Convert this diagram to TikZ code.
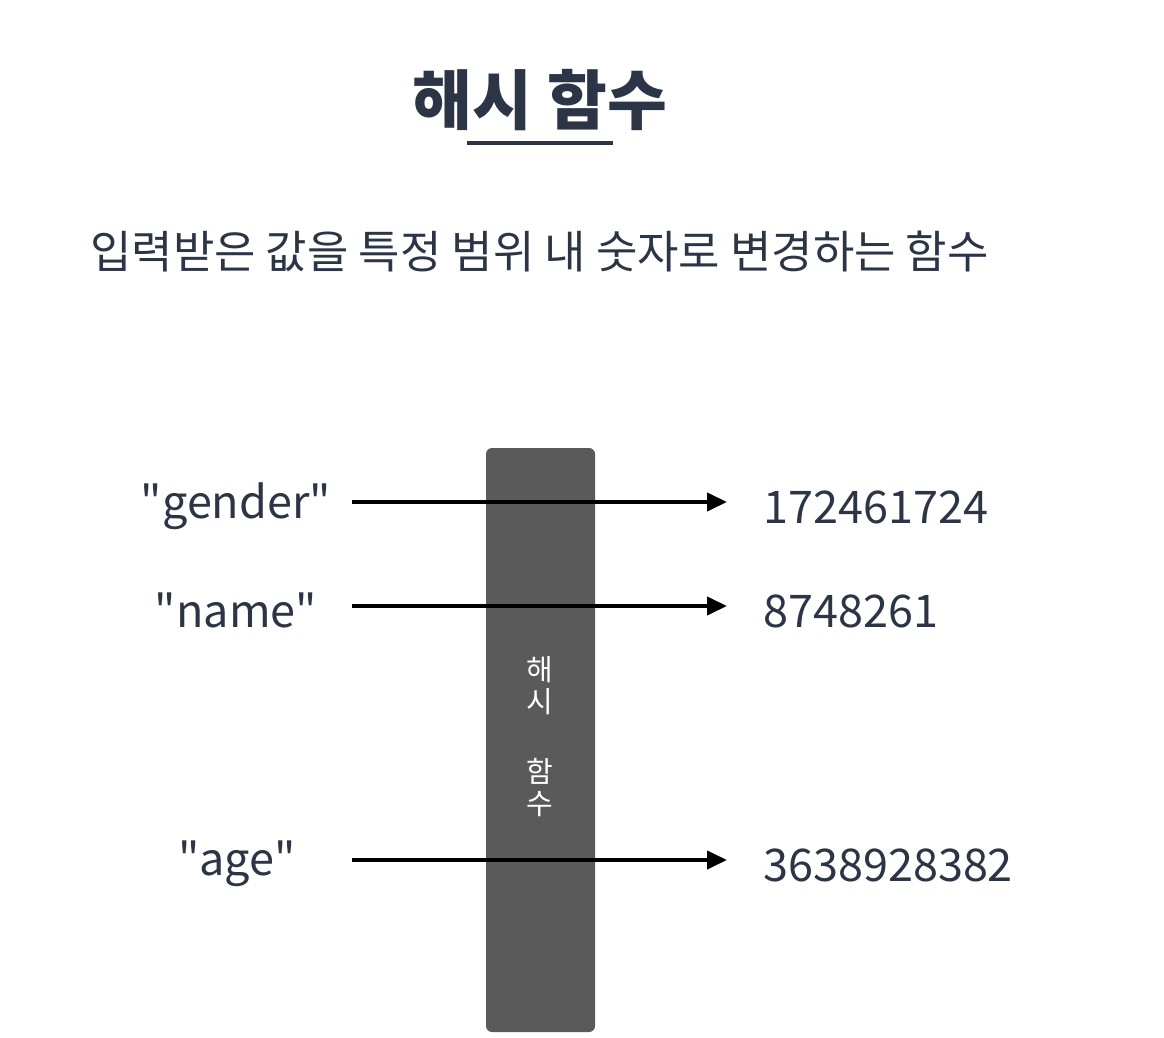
\documentclass[tikz,border=0pt]{standalone}
\usepackage{fontspec}
\setmainfont[Ligatures=TeXOff]{Noto Sans CJK KR}
\usetikzlibrary{arrows.meta}
\definecolor{navy}{HTML}{2C3545}
\definecolor{bargray}{HTML}{5A5A5A}
\tikzset{
  lbl/.style={text=navy, font=\fontsize{45}{50}\selectfont, inner sep=0pt},
  num/.style={text=navy, font=\fontsize{45}{50}\selectfont, inner sep=0pt, anchor=west},
  maparrow/.style={line width=4pt, -{Triangle[length=20pt,width=18pt]}},
}
\begin{document}
\begin{tikzpicture}[x=1pt,y=-1pt]
\useasboundingbox (0,0) rectangle (1164,1038);
% title
\node[text=navy, font=\fontsize{65}{70}\selectfont\bfseries, inner sep=0pt] (title) at (540,100) {해시 함수};
\draw[navy, line width=3.5pt] (467,143) coordinate (ul1) -- (613,143) coordinate (ul2);
% subtitle
\node[text=navy, font=\fontsize{45}{50}\selectfont, inner sep=0pt, anchor=west] (sub) at (90,252) {입력받은 값을 특정 범위 내 숫자로 변경하는 함수};
% bar
\node[fill=bargray, rounded corners=6pt, minimum width=109pt, minimum height=584pt, inner sep=0pt] (bar) at (540.5,740) {};
\node[text=white, font=\fontsize{29}{32}\selectfont, align=center, inner sep=0pt] (bartext) at (540,737) {해\\시\\[38pt]함\\수};
% inputs
\node[lbl] (gender) at (236,506) {"gender"};
\node[lbl] (name) at (236,610) {"name"};
\node[lbl] (age) at (237,864) {"age"};
% outputs
\node[num] (o1) at (763,507) {172461724};
\node[num] (o2) at (763,611) {8748261};
\node[num] (o3) at (763,865) {3638928382};
% arrows
\coordinate (s1) at (352,502); \coordinate (e1) at (727,502);
\coordinate (s2) at (352,606); \coordinate (e2) at (727,606);
\coordinate (s3) at (352,860); \coordinate (e3) at (727,860);
\draw[maparrow] (s1) -- (e1);
\draw[maparrow] (s2) -- (e2);
\draw[maparrow] (s3) -- (e3);
\end{tikzpicture}
\end{document}
